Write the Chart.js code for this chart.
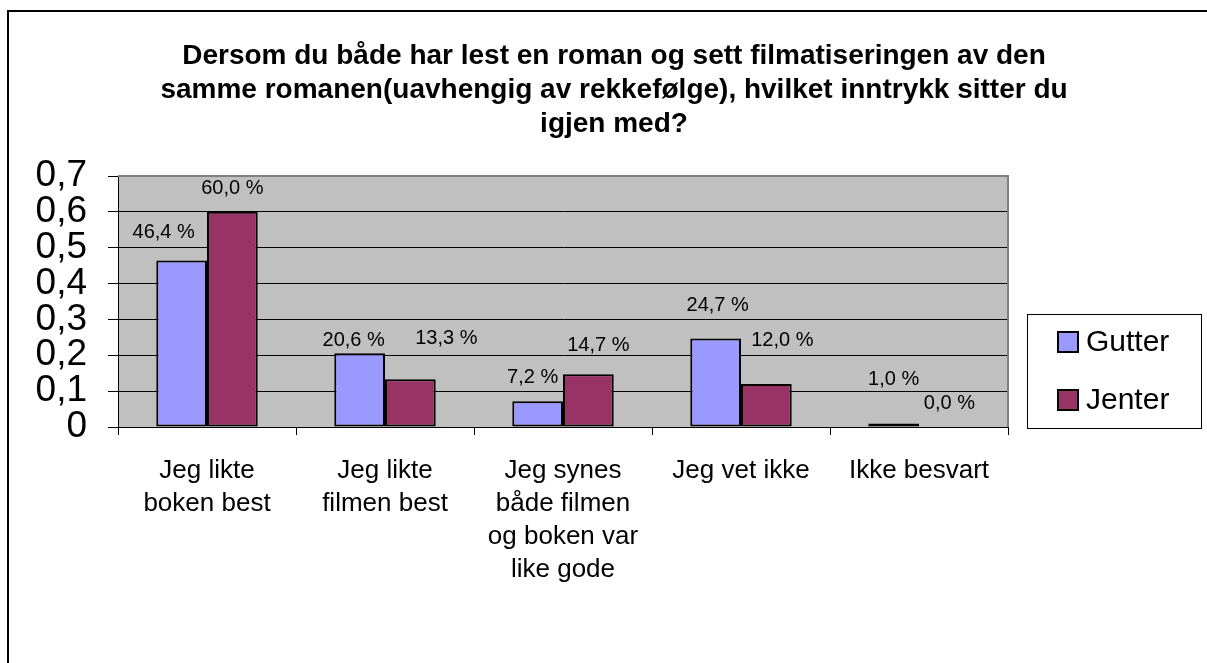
<!DOCTYPE html>
<html><head><meta charset="utf-8">
<script src="https://cdn.jsdelivr.net/npm/chart.js@4.4.1/dist/chart.umd.min.js"></script>
<style>
html,body{margin:0;padding:0;background:#fff;overflow:hidden;width:1207px;height:663px;}
#frame{position:absolute;left:7px;top:10px;width:1210px;height:660px;border:2px solid #000;background:#fff;}
#frame canvas{display:block;}
</style></head><body>
<div id="frame"><canvas id="c" width="1210" height="660"></canvas></div>
<script>
const titleLines = [
  'Dersom du både har lest en roman og sett filmatiseringen av den',
  'samme romanen(uavhengig av rekkefølge), hvilket inntrykk sitter du',
  'igjen med?'
];
const categories = [
  ['Jeg likte', 'boken best'],
  ['Jeg likte', 'filmen best'],
  ['Jeg synes', 'både filmen', 'og boken var', 'like gode'],
  ['Jeg vet ikke'],
  ['Ikke besvart']
];
const seriesNames = ['Gutter', 'Jenter'];
const gutter = [0.464, 0.206, 0.072, 0.247, 0.010];
const jenter = [0.600, 0.133, 0.147, 0.120, 0.000];
const yTickValues = [0, 0.1, 0.2, 0.3, 0.4, 0.5, 0.6, 0.7];
const yTickLabels = ['0', '0,1', '0,2', '0,3', '0,4', '0,5', '0,6', '0,7'];

// label offsets (px) relative to bar top centre, per series
const labelOffsets = [
  [[-18, -28], [-6, -13], [-5, -24], [2, -33], [0, -44]],
  [[0, -23], [36, -41], [10, -29], [16, -43], [5, -24]]
];

const FONT = "'Liberation Sans', Arial, sans-serif";

const plotBg = {
  id: 'plotBg',
  beforeDraw(chart) {
    const {ctx, chartArea: a} = chart;
    ctx.save();
    ctx.fillStyle = '#C0C0C0';
    ctx.fillRect(a.left, a.top, a.right - a.left, a.bottom - a.top);
    ctx.restore();
  },
  beforeDatasetsDraw(chart) {
    const {ctx, chartArea: a} = chart;
    ctx.save();
    ctx.strokeStyle = '#808080';
    ctx.lineWidth = 2;
    ctx.beginPath();
    ctx.moveTo(a.left, a.top);
    ctx.lineTo(a.right, a.top);
    ctx.lineTo(a.right, a.bottom);
    ctx.stroke();
    ctx.restore();
  }
};

const dataLabels = {
  id: 'dataLabels',
  afterDatasetsDraw(chart) {
    const ctx = chart.ctx;
    ctx.save();
    ctx.font = '20px ' + FONT;
    ctx.fillStyle = '#000';
    ctx.textAlign = 'center';
    ctx.textBaseline = 'middle';
    chart.data.datasets.forEach((ds, i) => {
      const meta = chart.getDatasetMeta(i);
      meta.data.forEach((el, j) => {
        const v = ds.data[j];
        const txt = (v * 100).toFixed(1).replace('.', ',') + ' %';
        const o = labelOffsets[i][j];
        ctx.fillText(txt, el.x + o[0], el.y + o[1]);
      });
    });
    ctx.restore();
  }
};

const boxLegend = {
  id: 'boxLegend',
  afterDraw(chart) {
    const ctx = chart.ctx;
    const bx = 1018, by = 302, bw = 174, bh = 114;
    ctx.save();
    ctx.fillStyle = '#fff';
    ctx.fillRect(bx, by, bw, bh);
    ctx.strokeStyle = '#000';
    ctx.lineWidth = 1;
    ctx.strokeRect(bx + 0.5, by + 0.5, bw, bh);
    ctx.font = '30px ' + FONT;
    ctx.textBaseline = 'middle';
    ctx.textAlign = 'left';
    chart.data.datasets.forEach((ds, i) => {
      const cy = 330 + i * 58;
      ctx.fillStyle = ds.backgroundColor;
      ctx.fillRect(1049, cy - 10, 20, 20);
      ctx.lineWidth = 2;
      ctx.strokeStyle = '#000';
      ctx.strokeRect(1049, cy - 10, 20, 20);
      ctx.fillStyle = '#000';
      ctx.fillText(ds.label, 1077, cy + 1);
    });
    ctx.restore();
  }
};

new Chart(document.getElementById('c'), {
  type: 'bar',
  data: {
    labels: categories,
    datasets: [
      { label: seriesNames[0], data: gutter, backgroundColor: '#9999FF', borderColor: '#000', borderWidth: 2, borderSkipped: false },
      { label: seriesNames[1], data: jenter, backgroundColor: '#993366', borderColor: '#000', borderWidth: 2, borderSkipped: false }
    ]
  },
  options: {
    responsive: false,
    animation: false,
    devicePixelRatio: 1,
    datasets: { bar: { categoryPercentage: 0.57, barPercentage: 1.0 } },
    layout: { padding: { left: 0, right: 0, top: 0, bottom: 85 } },
    plugins: {
      legend: { display: false },
      tooltip: { enabled: false },
      title: {
        display: true,
        text: titleLines,
        color: '#000',
        font: { family: FONT, size: 28, weight: 'bold', lineHeight: 34 / 28 },
        padding: { top: 27, bottom: 35 }
      }
    },
    scales: {
      x: {
        afterFit(s) { s.height = 160; },
        grid: { display: true, drawOnChartArea: false, drawTicks: true, tickLength: 8, color: '#000', offset: true },
        border: { display: true, color: '#000', width: 1 },
        ticks: {
          color: '#000', autoSkip: false, maxRotation: 0, minRotation: 0, padding: 19,
          font: { family: FONT, size: 26, lineHeight: 33 / 26 }
        }
      },
      y: {
        min: 0, max: 0.7,
        afterFit(s) { s.width = 109; },
        afterBuildTicks(s) { s.ticks = yTickValues.map(v => ({ value: v })); },
        grid: {
          color: c => (c.tick && c.tick.value === 0.7) ? '#808080' : '#000',
          lineWidth: 1, drawTicks: true, tickLength: 10, tickColor: '#000'
        },
        border: { display: true, color: '#000', width: 1 },
        ticks: {
          color: '#000', autoSkip: false, padding: 21,
          font: { family: FONT, size: 37, lineHeight: 1 },
          callback: (v, i) => yTickLabels[i]
        }
      },
      legendSpace: {
        type: 'linear',
        position: 'right',
        display: true,
        afterFit(s) { s.width = 211; },
        grid: { display: false, drawTicks: false },
        border: { display: false },
        ticks: { display: false }
      }
    }
  },
  plugins: [plotBg, dataLabels, boxLegend]
});
</script>
</body></html>
